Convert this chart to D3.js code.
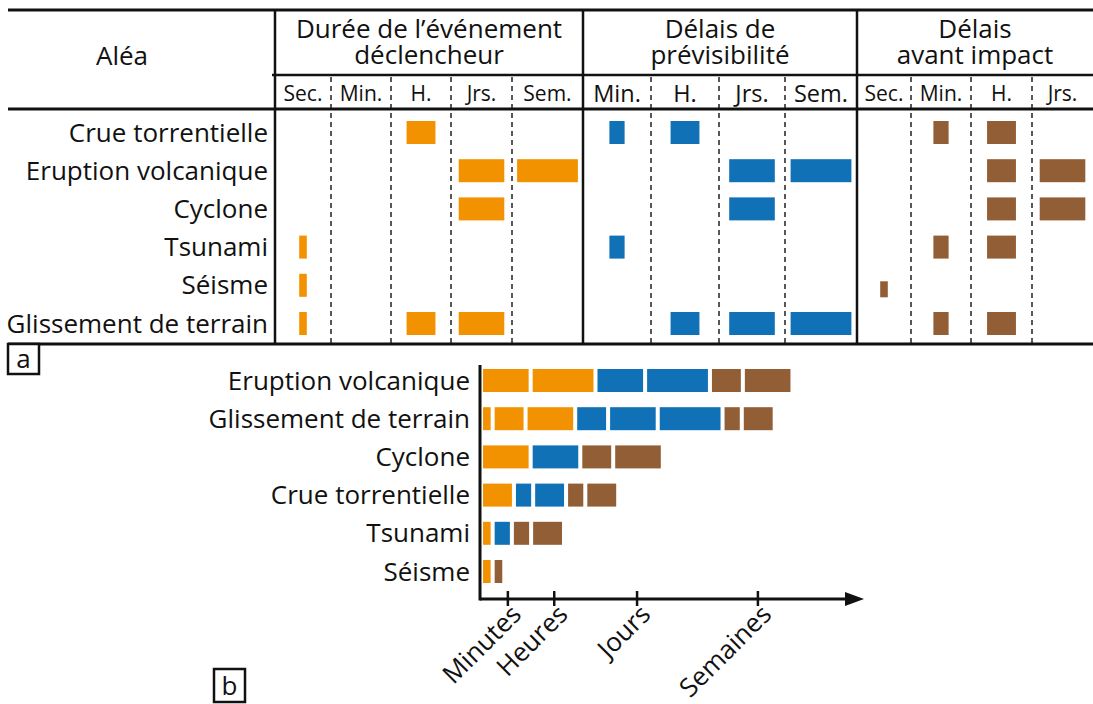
<!DOCTYPE html>
<html>
<head>
<meta charset="utf-8">
<script src="https://cdn.jsdelivr.net/npm/d3@7/dist/d3.min.js"></script>
<style>
  html, body { margin: 0; padding: 0; background: #fff; }
  svg { display: block; }
  text { font-family: "Open Sans", Lato, sans-serif; fill: #111; }
</style>
</head>
<body>
<svg id="chart" width="1093" height="704"></svg>
<script>
// ---------------- DATA ----------------
const hazards = ["Crue torrentielle", "Eruption volcanique", "Cyclone", "Tsunami", "Séisme", "Glissement de terrain"];
const timeUnits = ["Sec.", "Min.", "H.", "Jrs.", "Sem."];
const timeUnitLength = [0.5, 1, 1.9, 3, 4];   // relative length of each time unit

const groupTitles = [["Durée de l’événement", "déclencheur"], ["Délais de", "prévisibilité"], ["Délais", "avant impact"]];
const groupUnits = [["Sec.", "Min.", "H.", "Jrs.", "Sem."], ["Min.", "H.", "Jrs.", "Sem."], ["Sec.", "Min.", "H.", "Jrs."]];

// per hazard (same order as hazards): which time units are filled
const dureeUnits  = [["H."], ["Jrs.", "Sem."], ["Jrs."], ["Sec."], ["Sec."], ["Sec.", "H.", "Jrs."]];
const previsUnits = [["Min.", "H."], ["Jrs.", "Sem."], ["Jrs."], ["Min."], [], ["H.", "Jrs.", "Sem."]];
const impactUnits = [["Min.", "H."], ["H.", "Jrs."], ["H.", "Jrs."], ["Min.", "H."], ["Sec."], ["Min.", "H."]];

const axisLabels = ["Minutes", "Heures", "Jours", "Semaines"];
const axisValues = [1.8, 4.85, 10.3, 18.25];

const seriesColors = ["#F39200", "#1071B6", "#925E36"];
const panelLabels = ["a", "b"];

// ---------------- LAYOUT ----------------
const svg = d3.select("#chart");
const FS = 26;
const groupSeries = [dureeUnits, previsUnits, impactUnits];
const groupOffset = [0, groupUnits[0].length, groupUnits[0].length + groupUnits[1].length];
const nCols = groupUnits.flat().length;

// column boundaries of the table (piecewise linear scale over column index)
const colX = d3.scaleLinear()
  .domain(d3.range(nCols + 1))
  .range([275, 331, 391, 451, 512, 583, 651, 719, 785, 857, 911, 971, 1032, 1093]);

const lenScale = d3.scaleLinear().domain([0, 1]).range([0, 15.2]);
const unitLen = u => timeUnitLength[timeUnits.indexOf(u)];

const rowY = d3.scaleBand().domain(hazards).range([121, 335]).paddingInner(0.398).paddingOuter(0);

// ---------- Panel a : table ----------
const gA = svg.append("g");
const lineTop = 10, lineMid = 75, lineSub = 109, lineBot = 344, left = 8, right = 1093;

[[left, lineTop], [left, lineSub], [left, lineBot]].forEach(([x0, y]) => {
  gA.append("line").attr("x1", x0).attr("x2", right).attr("y1", y).attr("y2", y)
    .attr("stroke", "#111").attr("stroke-width", 3);
});
gA.append("line").attr("x1", colX(0) - 3).attr("x2", right).attr("y1", lineMid).attr("y2", lineMid)
  .attr("stroke", "#111").attr("stroke-width", 2.5);

[0, groupOffset[1], groupOffset[2]].forEach(i => {
  gA.append("line").attr("x1", colX(i)).attr("x2", colX(i)).attr("y1", lineTop).attr("y2", lineBot)
    .attr("stroke", "#111").attr("stroke-width", 2.5);
});
d3.range(1, nCols).filter(i => !groupOffset.includes(i)).forEach(i => {
  gA.append("line").attr("x1", colX(i)).attr("x2", colX(i)).attr("y1", lineMid + 2).attr("y2", lineBot)
    .attr("stroke", "#111").attr("stroke-width", 1.4).attr("stroke-dasharray", "5,4");
});

// headers
gA.append("text").attr("x", 122).attr("y", 65).attr("text-anchor", "middle")
  .style("font-size", FS + "px").text("Aléa");
groupTitles.forEach((t, g) => {
  const cx = (colX(groupOffset[g]) + colX(groupOffset[g] + groupUnits[g].length)) / 2;
  gA.append("text").attr("x", cx).attr("y", 38).attr("text-anchor", "middle")
    .style("font-size", FS + "px")
    .selectAll("tspan").data(t).join("tspan")
    .attr("x", cx).attr("dy", (d, k) => k === 0 ? 0 : 25.5).text(d => d);
  groupUnits[g].forEach((u, j) => {
    gA.append("text").attr("x", colX(groupOffset[g] + j + 0.5)).attr("y", g === 1 ? 102 : 101)
      .attr("text-anchor", "middle").style("font-size", (g === 1 ? 23.5 : 21) + "px").text(u);
  });
});

// row labels
gA.selectAll("text.row").data(hazards).join("text").attr("class", "row")
  .attr("x", 268).attr("y", d => rowY(d) + rowY.bandwidth() / 2).attr("dy", "0.35em")
  .attr("text-anchor", "end").style("font-size", FS + "px").text(d => d);

// bars
const barsA = [];
groupSeries.forEach((series, g) => {
  series.forEach((units, h) => {
    units.forEach(u => barsA.push({ g, hazard: hazards[h], unit: u }));
  });
});
const isSmall = d => d.g === 2 && d.unit === "Sec.";
gA.selectAll("rect.bar").data(barsA).join("rect").attr("class", "bar")
  .attr("x", d => colX(groupOffset[d.g] + groupUnits[d.g].indexOf(d.unit) + 0.5) - lenScale(unitLen(d.unit)) / 2)
  .attr("width", d => lenScale(unitLen(d.unit)))
  .attr("y", d => {
    const h = isSmall(d) ? 16 : rowY.bandwidth();
    return rowY(d.hazard) + rowY.bandwidth() / 2 - h / 2 + (isSmall(d) ? 4 : 0);
  })
  .attr("height", d => isSmall(d) ? 16 : rowY.bandwidth())
  .attr("fill", d => seriesColors[d.g]);

function panelBox(x, y, w, h, label) {
  svg.append("rect").attr("x", x).attr("y", y).attr("width", w).attr("height", h)
    .attr("fill", "#fff").attr("stroke", "#111").attr("stroke-width", 2.5);
  svg.append("text").attr("x", x + w / 2).attr("y", y + h / 2).attr("dy", "0.35em")
    .attr("text-anchor", "middle").style("font-size", "26px").text(label);
}
panelBox(8, 344, 31, 30, panelLabels[0]);

// ---------- Panel b : stacked sequence ----------
const gB = svg.append("g");
const seqs = hazards.map((hz, h) => {
  const items = [];
  groupSeries.forEach((series, g) => series[h].forEach(u => items.push({ g, unit: u, len: unitLen(u) })));
  return { hazard: hz, items, total: d3.sum(items, d => d.len) };
});
const sorted = d3.sort(seqs, (a, b) => d3.descending(a.total, b.total));

const xB = d3.scaleLinear().domain([0, 24]).range([480, 480 + lenScale(24)]);
const yB = d3.scaleBand().domain(sorted.map(d => d.hazard)).range([369, 583]).paddingInner(0.398).paddingOuter(0);
const gapU = 0.265, startU = 0.2;

const barsB = [];
sorted.forEach(s => {
  let pos = startU;
  s.items.forEach(it => {
    barsB.push({ hazard: s.hazard, g: it.g, x0: pos, x1: pos + it.len });
    pos += it.len + gapU;
  });
});
gB.selectAll("rect").data(barsB).join("rect")
  .attr("x", d => xB(d.x0)).attr("width", d => xB(d.x1) - xB(d.x0))
  .attr("y", d => yB(d.hazard)).attr("height", yB.bandwidth())
  .attr("fill", d => seriesColors[d.g]);

gB.selectAll("text.rowb").data(sorted).join("text").attr("class", "rowb")
  .attr("x", 470).attr("y", d => yB(d.hazard) + yB.bandwidth() / 2).attr("dy", "0.35em")
  .attr("text-anchor", "end").style("font-size", FS + "px").text(d => d.hazard);

// axes
const axisY = 599;
gB.append("line").attr("x1", xB(0)).attr("x2", xB(0)).attr("y1", 365).attr("y2", axisY + 1.5)
  .attr("stroke", "#111").attr("stroke-width", 3);
gB.append("line").attr("x1", xB(0)).attr("x2", 848).attr("y1", axisY).attr("y2", axisY)
  .attr("stroke", "#111").attr("stroke-width", 3);
gB.append("path").attr("d", `M845,${axisY - 7}L864,${axisY}L845,${axisY + 7}Z`).attr("fill", "#111");

const ax = gB.append("g").attr("transform", `translate(0,${axisY})`)
  .call(d3.axisBottom(xB).tickValues(axisValues).tickFormat((d, i) => axisLabels[i]).tickSize(7));
ax.select(".domain").remove();
ax.selectAll(".tick line").attr("y1", -8).attr("y2", 7).attr("stroke", "#111").attr("stroke-width", 2.5);
ax.selectAll(".tick text")
  .attr("y", 0).attr("dy", 0).attr("x", 0)
  .attr("text-anchor", "end")
  .attr("transform", "translate(15,17) rotate(-45)")
  .style("font-size", "26px").style("font-family", "'Open Sans', sans-serif").attr("fill", "#111");

panelBox(214, 669, 31, 33, panelLabels[1]);
</script>
</body>
</html>
